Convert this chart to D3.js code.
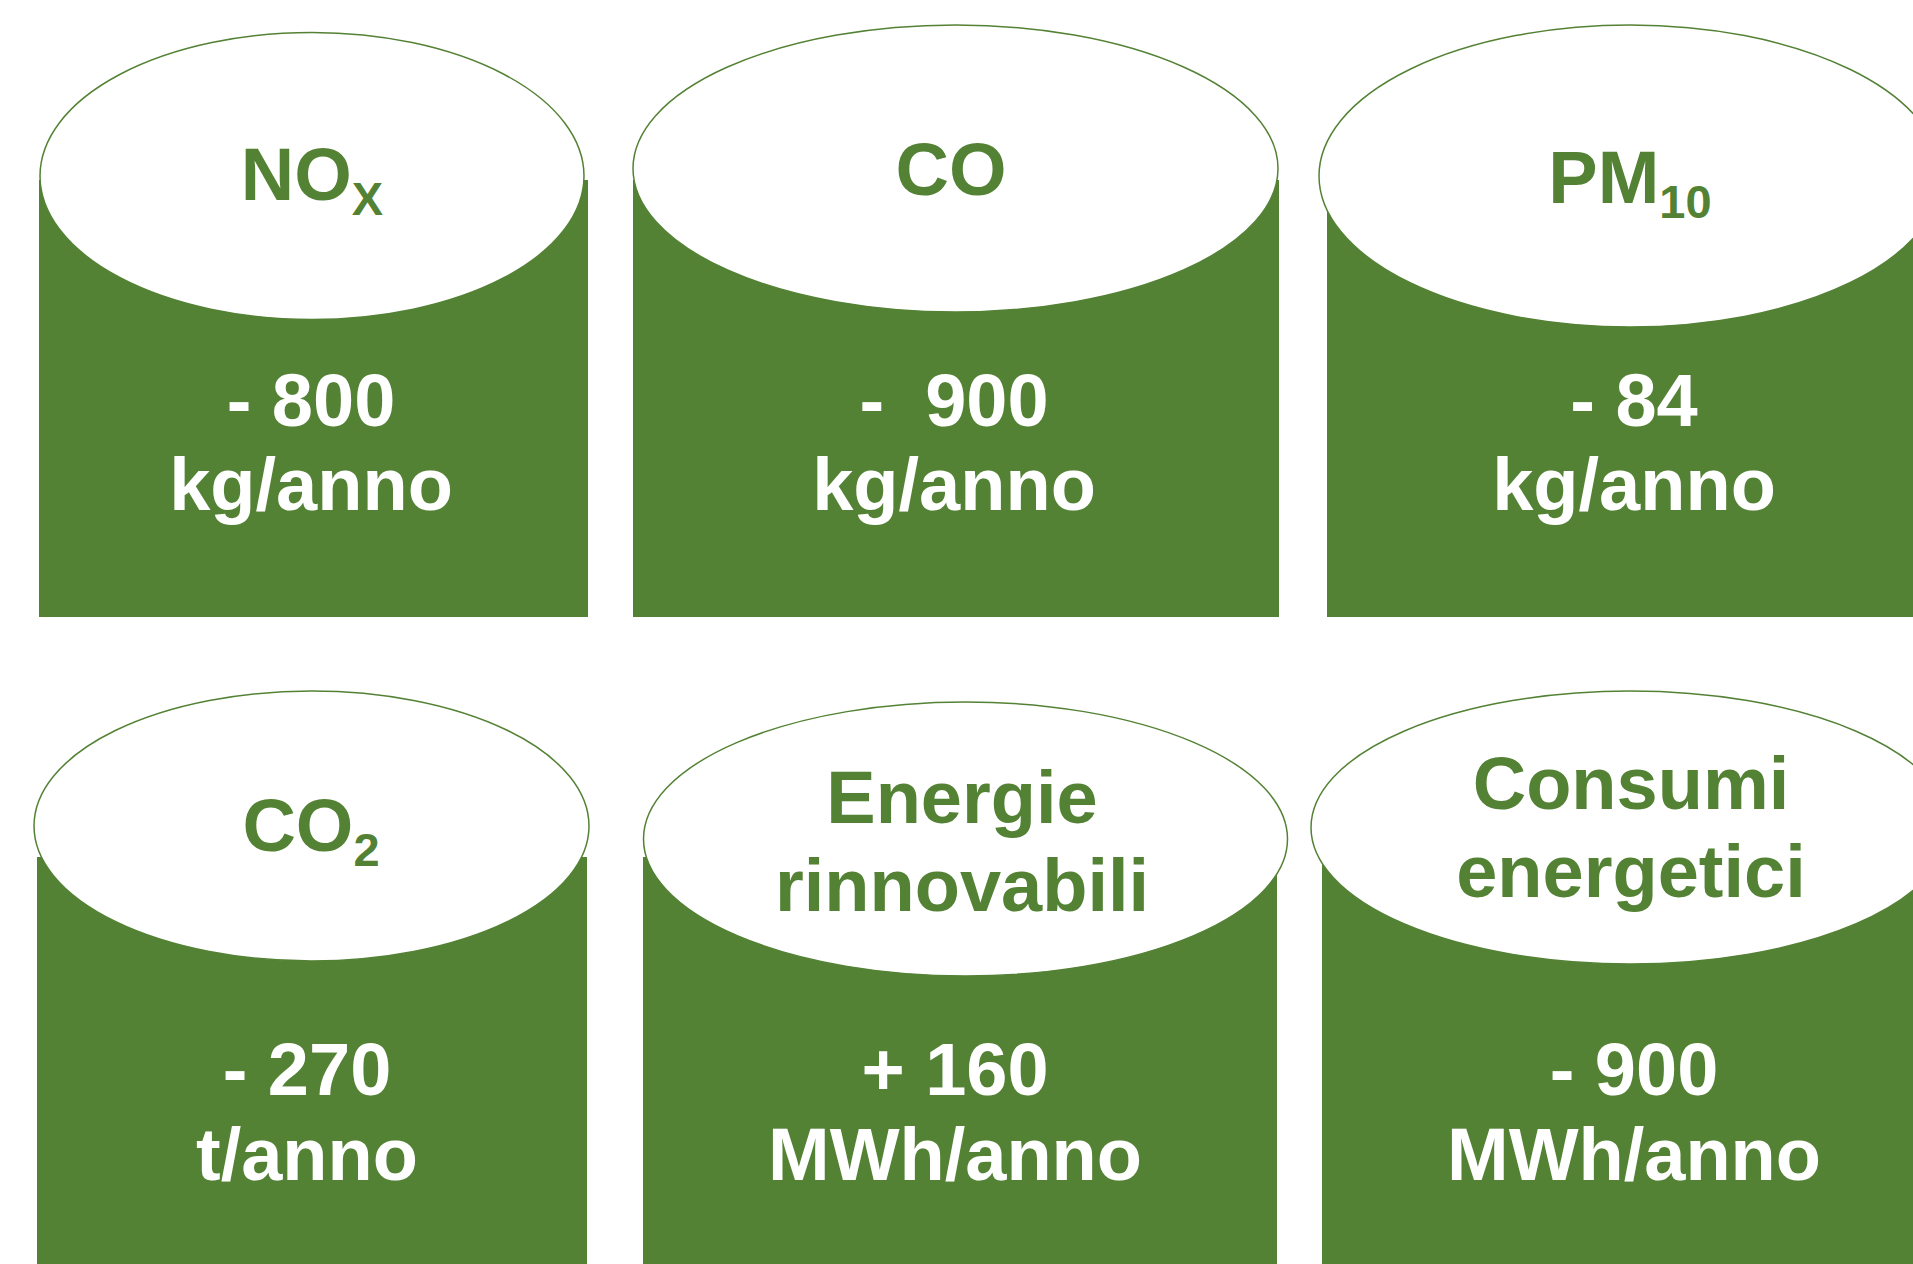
<!DOCTYPE html>
<html lang="it">
<head>
<meta charset="utf-8">
<title>Benefici ambientali</title>
<script src="https://cdn.jsdelivr.net/npm/d3@7"></script>
<style>
  html, body { margin: 0; padding: 0; background: #fff; overflow: hidden; }
  svg text { font-family: "Liberation Sans", Arial, sans-serif; font-weight: bold; white-space: pre; }
</style>
</head>
<body>
<div id="chart"></div>
<script>
// indicatori
var labels = ["NO", "CO", "PM", "CO", "Energie\nrinnovabili", "Consumi\nenergetici"];
var subs   = ["X", "", "10", "2", "", ""];
var values = ["- 800", "-  900", "- 84", "- 270", "+ 160", "- 900"];
var units  = ["kg/anno", "kg/anno", "kg/anno", "t/anno", "MWh/anno", "MWh/anno"];

var width = 1913, height = 1264;
var green = "#548235";

// geometria dei cilindri (riga 0 in alto, riga 1 in basso)
// tx / vx = centro orizzontale di titolo e valore
var shapes = [
  { row: 0, x0: 39,   x1: 588,  top: 180, cx: 312,   cy: 176,   rx: 272,   ry: 143.5, tx: 312,  vx: 311 },
  { row: 0, x0: 633,  x1: 1279, top: 180, cx: 955.5, cy: 168.5, rx: 322.5, ry: 143.5, tx: 951,  vx: 954 },
  { row: 0, x0: 1327, x1: 1990, top: 190, cx: 1630,  cy: 176,   rx: 311,   ry: 151,   tx: 1630, vx: 1634 },
  { row: 1, x0: 37,   x1: 587,  top: 857, cx: 311.5, cy: 826,   rx: 277.5, ry: 135,   tx: 311,  vx: 307 },
  { row: 1, x0: 643,  x1: 1277, top: 857, cx: 965.5, cy: 839,   rx: 322,   ry: 137,   tx: 962,  vx: 955 },
  { row: 1, x0: 1322, x1: 1990, top: 857, cx: 1630,  cy: 827.5, rx: 319,   ry: 136.5, tx: 1631, vx: 1634 }
];
var rowBottom = [617, 1300];
var valueBase = [426, 1095];
var unitBase  = [510, 1180];
// baseline del titolo (prima riga) per ogni cilindro
var titleBase = [200, 195, 203, 851, 823, 809];

var data = labels.map(function(l, i) {
  return { label: l.split("\n"), sub: subs[i], value: values[i], unit: units[i], g: shapes[i], tb: titleBase[i] };
});

var svg = d3.select("#chart").append("svg")
    .attr("width", width)
    .attr("height", height);

var cyl = svg.selectAll("g.cyl")
    .data(data)
  .enter().append("g")
    .attr("class", "cyl");

cyl.append("rect")
    .attr("x", function(d) { return d.g.x0; })
    .attr("y", function(d) { return d.g.top; })
    .attr("width", function(d) { return d.g.x1 - d.g.x0; })
    .attr("height", function(d) { return rowBottom[d.g.row] - d.g.top; })
    .attr("fill", green);

cyl.append("ellipse")
    .attr("cx", function(d) { return d.g.cx; })
    .attr("cy", function(d) { return d.g.cy; })
    .attr("rx", function(d) { return d.g.rx; })
    .attr("ry", function(d) { return d.g.ry; })
    .attr("fill", "#fff")
    .attr("stroke", green)
    .attr("stroke-width", 1.5);

// titoli
cyl.each(function(d) {
  var g = d3.select(this);
  d.label.forEach(function(line, k) {
    var t = g.append("text")
        .attr("x", d.g.tx)
        .attr("y", d.tb + k * 88)
        .attr("text-anchor", "middle")
        .attr("font-size", 74)
        .attr("fill", green);
    t.append("tspan").text(line);
    if (d.sub && k === 0) {
      t.append("tspan")
          .attr("font-size", 47)
          .attr("dy", 15)
          .text(d.sub);
    }
  });
});

// valori
cyl.append("text")
    .attr("x", function(d) { return d.g.vx; })
    .attr("y", function(d) { return valueBase[d.g.row]; })
    .attr("text-anchor", "middle")
    .attr("font-size", 74)
    .attr("fill", "#fff")
    .text(function(d) { return d.value; });

cyl.append("text")
    .attr("x", function(d) { return d.g.vx; })
    .attr("y", function(d) { return unitBase[d.g.row]; })
    .attr("text-anchor", "middle")
    .attr("font-size", 74)
    .attr("fill", "#fff")
    .text(function(d) { return d.unit; });
</script>
</body>
</html>
